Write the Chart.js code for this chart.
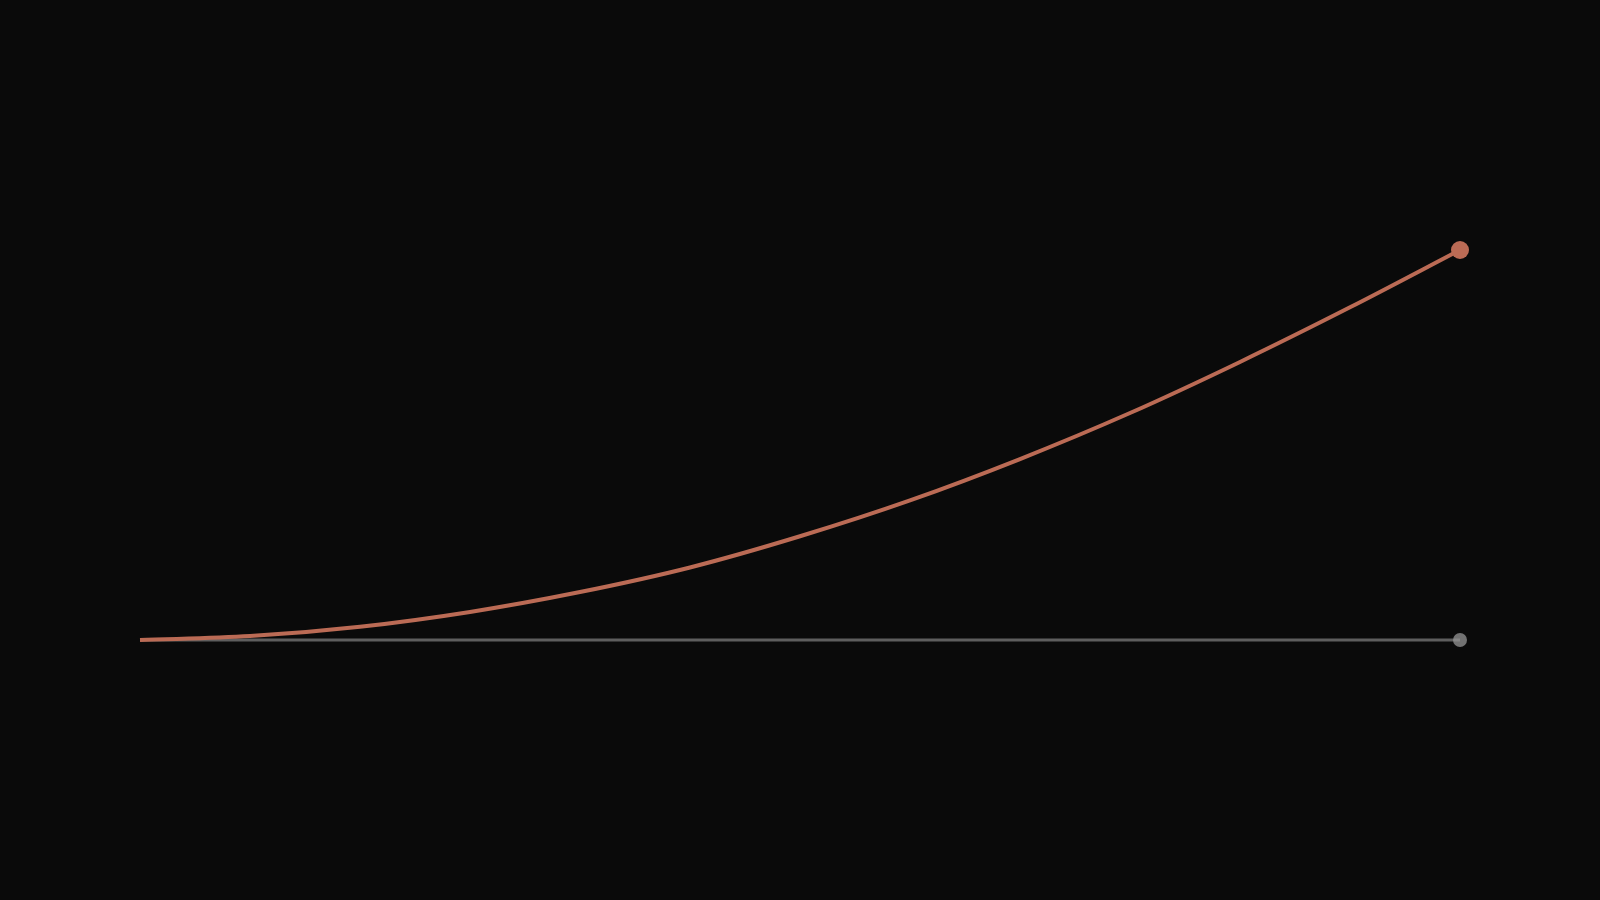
<!DOCTYPE html>
<html>
<head>
<meta charset="utf-8">
<script src="https://cdn.jsdelivr.net/npm/chart.js@4"></script>
<style>
  html, body { margin: 0; padding: 0; background: #0a0a0a; }
  #wrap { width: 1600px; height: 900px; }
</style>
</head>
<body>
<div id="wrap"><canvas id="myChart"></canvas></div>
<script>
const ctx = document.getElementById("myChart");

// steps along the x axis
var arrLabels = ["0", "1", "2", "3", "4", "5", "6", "7", "8", "9", "10", "11", "12"];
// growing series
var arrGrowth = [0, 1.0, 3.4, 7.2, 12.3, 18.6, 26.6, 35.8, 46.4, 58.2, 71.3, 85.3, 100];
// flat baseline
var arrFlat = [0, 0, 0, 0, 0, 0, 0, 0, 0, 0, 0, 0, 0];

function lastDot(size) {
  return function (c) {
    return c.dataIndex === arrLabels.length - 1 ? size : 0;
  };
}

new Chart(ctx, {
  type: "line",
  data: {
    labels: arrLabels,
    datasets: [
      {
        label: "Growth",
        data: arrGrowth,
        borderColor: "#bb6b55",
        backgroundColor: "#bb6b55",
        borderWidth: 4,
        cubicInterpolationMode: "monotone",
        pointRadius: lastDot(9),
        pointHoverRadius: lastDot(9),
        pointBorderWidth: 0,
        clip: false,
        order: 1,
      },
      {
        label: "Flat",
        data: arrFlat,
        borderColor: "#5e5e5e",
        backgroundColor: "rgba(150, 150, 150, 0.75)",
        borderWidth: 3,
        pointRadius: lastDot(7),
        pointHoverRadius: lastDot(7),
        pointBorderWidth: 0,
        clip: false,
        order: 2,
      },
    ],
  },
  options: {
    responsive: true,
    maintainAspectRatio: false,
    animation: false,
    layout: {
      padding: { top: 250, bottom: 260, left: 140, right: 140 },
    },
    plugins: {
      legend: { display: false },
      tooltip: { enabled: false },
    },
    scales: {
      x: {
        display: false,
        offset: false,
        grid: { display: false },
      },
      y: {
        display: false,
        min: 0,
        max: 100,
        grid: { display: false },
      },
    },
  },
});
</script>
</body>
</html>
